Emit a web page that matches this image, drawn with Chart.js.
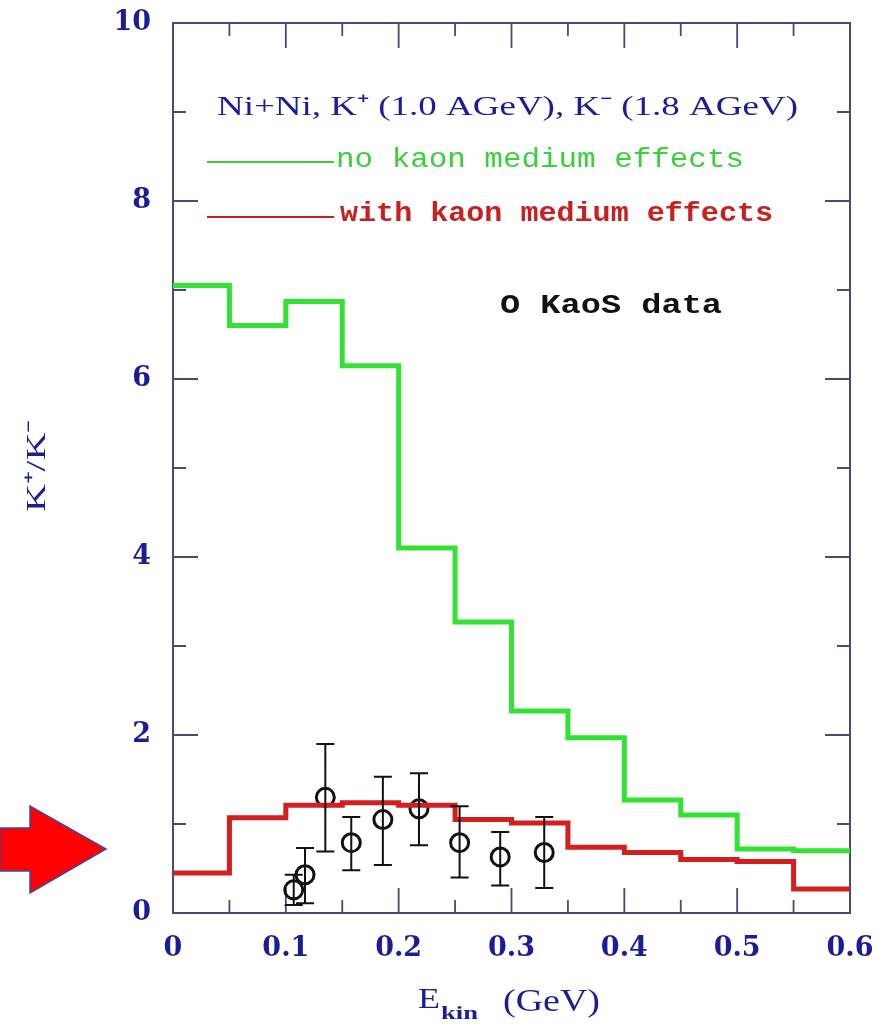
<!DOCTYPE html>
<html><head><meta charset="utf-8">
<script src="https://cdn.jsdelivr.net/npm/chart.js@4.4.0/dist/chart.umd.min.js"></script>
<style>html,body{margin:0;padding:0;background:#fff;} #wrap{width:883px;height:1036px;position:relative}</style>
</head><body><div id="wrap"><canvas id="c" width="883" height="1036"></canvas></div>
<script>
const binEdges = [0,0.05,0.1,0.15,0.2,0.25,0.3,0.35,0.4,0.45,0.5,0.55,0.6];
const noMediumRatio = [7.05,6.6,6.87,6.15,4.1,3.27,2.27,1.97,1.27,1.1,0.72,0.7];
const withMediumRatio = [0.45,1.07,1.21,1.24,1.21,1.05,1.01,0.74,0.68,0.6,0.58,0.27];
const kaosE = [0.107,0.117,0.135,0.158,0.186,0.218,0.254,0.290,0.329];
const kaosRatio = [0.26,0.43,1.30,0.79,1.05,1.17,0.79,0.63,0.68];
const kaosErrLow = [0.09,0.11,0.69,0.48,0.54,0.76,0.40,0.31,0.28];
const kaosErrHigh = [0.43,0.73,1.90,1.08,1.53,1.57,1.20,0.91,1.08];
const xTickLabels = ['0','0.1','0.2','0.3','0.4','0.5','0.6'];
const yTickLabels = ['0','2','4','6','8','10'];
const xMinorStep = 0.05, yMinorStep = 1;

const AXIS_COL = '#4a4a78';
const LABEL_COL = '#1c1c98';
const GREEN = '#34e234';
const RED = '#d21f1f';

function histo(vals){
  return binEdges.map((e,i)=>({x:e, y: vals[Math.min(i, vals.length-1)]}));
}

function fitText(ctx, text, x, y, w, font, color){
  ctx.save();
  ctx.font = font; ctx.fillStyle = color; ctx.textBaseline = 'middle'; ctx.textAlign = 'left';
  const m = ctx.measureText(text).width;
  ctx.translate(x, y); ctx.scale(w/m, 1);
  ctx.fillText(text, 0, 0);
  ctx.restore();
}

const framePlugin = {
  id: 'frame',
  beforeDatasetsDraw(chart){
    const {ctx, chartArea:a, scales:{x, y}} = chart;
    ctx.save();
    ctx.strokeStyle = AXIS_COL; ctx.lineWidth = 2;
    ctx.strokeRect(a.left, a.top, a.right-a.left, a.bottom-a.top);
    ctx.lineWidth = 1.8;
    ctx.beginPath();
    const nx = Math.round((x.max - x.min)/xMinorStep);
    for(let i=1;i<nx;i++){
      const v = x.min + i*xMinorStep;
      const px = x.getPixelForValue(v);
      const L = (i%2===0) ? 25 : 13;
      ctx.moveTo(px, a.bottom); ctx.lineTo(px, a.bottom-L);
      ctx.moveTo(px, a.top); ctx.lineTo(px, a.top+L);
    }
    const ny = Math.round((y.max - y.min)/yMinorStep);
    for(let i=1;i<ny;i++){
      const v = y.min + i*yMinorStep;
      const py = y.getPixelForValue(v);
      const L = (i%2===0) ? 25 : 13;
      ctx.moveTo(a.left, py); ctx.lineTo(a.left+L, py);
      ctx.moveTo(a.right, py); ctx.lineTo(a.right-L, py);
    }
    ctx.stroke();
    ctx.restore();
  },
  afterDatasetsDraw(chart){
    const {ctx, scales:{x, y}} = chart;
    ctx.save();
    ctx.strokeStyle = '#111'; ctx.lineWidth = 2;
    ctx.beginPath();
    for(let i=0;i<kaosE.length;i++){
      const px = x.getPixelForValue(kaosE[i]);
      const pt = y.getPixelForValue(kaosErrHigh[i]);
      const pb = y.getPixelForValue(kaosErrLow[i]);
      ctx.moveTo(px, pt); ctx.lineTo(px, pb);
      ctx.moveTo(px-9, pt); ctx.lineTo(px+9, pt);
      ctx.moveTo(px-9, pb); ctx.lineTo(px+9, pb);
    }
    ctx.stroke();
    ctx.restore();
  },
  afterDraw(chart){
    const {ctx} = chart;
    fitText(ctx, 'Ni+Ni, K\u207A (1.0 AGeV), K\u207B (1.8 AGeV)', 217, 108, 581, '28px "Liberation Serif"', LABEL_COL);
    ctx.save();
    ctx.lineWidth = 2;
    ctx.strokeStyle = '#3ccf3c';
    ctx.beginPath(); ctx.moveTo(207, 162); ctx.lineTo(334, 162); ctx.stroke();
    ctx.strokeStyle = '#c82020';
    ctx.beginPath(); ctx.moveTo(207, 217); ctx.lineTo(334, 217); ctx.stroke();
    ctx.restore();
    fitText(ctx, 'no kaon medium effects', 336, 160, 408, '28px "Liberation Mono"', '#3ccf3c');
    fitText(ctx, 'with kaon medium effects', 340, 214, 433, 'bold 28px "Liberation Mono"', '#c82020');
    fitText(ctx, 'O KaoS data', 500, 306, 222, 'bold 28px "Liberation Mono"', '#111');
    ctx.save();
    ctx.translate(38, 466); ctx.rotate(-Math.PI/2);
    ctx.font = '28px "Liberation Serif"'; ctx.fillStyle = LABEL_COL;
    ctx.textAlign = 'center'; ctx.textBaseline = 'middle';
    const t = 'K\u207A/K\u207B';
    const m = ctx.measureText(t).width;
    ctx.scale(92/m, 1);
    ctx.fillText(t, 0, 0);
    ctx.restore();
    fitText(ctx, 'E', 418, 1000, 22, '30px "Liberation Serif"', LABEL_COL);
    fitText(ctx, 'kin', 441, 1014, 37, 'bold 19px "Liberation Serif"', LABEL_COL);
    fitText(ctx, '(GeV)', 503, 1003, 97, '31px "Liberation Serif"', LABEL_COL);
    ctx.save();
    ctx.beginPath();
    ctx.moveTo(0, 828); ctx.lineTo(30, 828); ctx.lineTo(30, 806); ctx.lineTo(106, 849);
    ctx.lineTo(30, 893); ctx.lineTo(30, 871); ctx.lineTo(0, 871); ctx.closePath();
    ctx.fillStyle = '#ff0000'; ctx.fill();
    ctx.strokeStyle = '#3b4aa0'; ctx.lineWidth = 1.5; ctx.stroke();
    ctx.restore();
  }
};

const tickFont = {family: '"DejaVu Serif"', size: 27, weight: 'bold'};

new Chart(document.getElementById('c'), {
  type: 'scatter',
  data: {
    datasets: [
      {label: 'no kaon medium effects', data: histo(noMediumRatio), showLine: true, stepped: 'before',
       borderColor: GREEN, borderWidth: 5, pointRadius: 0, fill: false},
      {label: 'with kaon medium effects', data: histo(withMediumRatio), showLine: true, stepped: 'before',
       borderColor: RED, borderWidth: 5, pointRadius: 0, fill: false},
      {label: 'KaoS data', data: kaosE.map((e,i)=>({x:e, y:kaosRatio[i]})), showLine: false,
       pointStyle: 'circle', pointRadius: 9, pointBorderWidth: 3, borderColor: '#111',
       backgroundColor: 'rgba(0,0,0,0)', pointBackgroundColor: 'rgba(0,0,0,0)', pointBorderColor: '#111'}
    ]
  },
  options: {
    responsive: false, animation: false,
    layout: {padding: {top: 23, right: 33, left: 0, bottom: 0}},
    plugins: {legend: {display: false}, tooltip: {enabled: false}},
    scales: {
      x: {type: 'linear', min: 0, max: 0.6,
          grid: {display: false, drawTicks: false}, border: {display: false},
          afterBuildTicks: s => { s.ticks = xTickLabels.map(l => ({value: parseFloat(l)})); },
          ticks: {callback: (v, i) => xTickLabels[i], font: tickFont, color: LABEL_COL, padding: 20, maxRotation: 0, autoSkip: false},
          afterFit: s => { s.height = 123; s.paddingLeft = 0; s.paddingRight = 0; }},
      y: {type: 'linear', min: 0, max: 10,
          grid: {display: false, drawTicks: false}, border: {display: false},
          afterBuildTicks: s => { s.ticks = yTickLabels.map(l => ({value: parseFloat(l)})); },
          ticks: {callback: (v, i) => yTickLabels[i], font: tickFont, color: LABEL_COL, padding: 22, autoSkip: false},
          afterFit: s => { s.width = 173; s.paddingTop = 0; s.paddingBottom = 0; }}
    }
  },
  plugins: [framePlugin]
});
</script></body></html>
